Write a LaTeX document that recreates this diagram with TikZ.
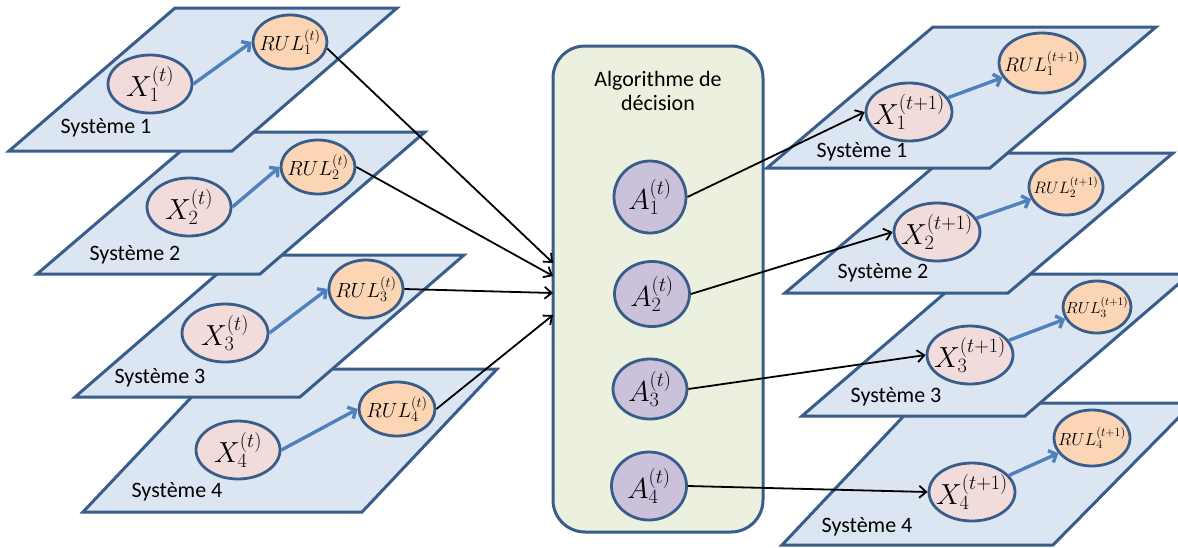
\documentclass[tikz,border=0pt]{standalone}
\usepackage{fix-cm}
\usepackage{fontspec}
\usetikzlibrary{arrows.meta,shapes.geometric}
\newfontfamily\calib{Carlito}
\definecolor{planefill}{HTML}{DCE6F2}
\definecolor{edgeblue}{HTML}{385D8A}
\definecolor{arrowblue}{HTML}{4F81BD}
\definecolor{xpink}{HTML}{F2DCDB}
\definecolor{rulorange}{HTML}{FCD5B5}
\definecolor{apurple}{HTML}{CCC1DA}
\definecolor{boxgreen}{HTML}{EBF1DE}
\newcommand{\msize}[1]{\fontsize{#1}{#1}\selectfont}

\begin{document}
\begin{tikzpicture}[x=1pt,y=-1pt,
    plane/.style={draw=edgeblue,fill=planefill,line width=3pt},
    state/.style={ellipse,draw=edgeblue,line width=2.8pt,inner sep=-14pt},
    xnode/.style={state,fill=xpink,font=\msize{29}},
    rulnode/.style={state,fill=rulorange},
    anode/.style={state,fill=apurple,font=\msize{29}},
    evol/.style={-{Straight Barb[length=6pt,width=13pt]},arrowblue,line width=3.4pt},
    link/.style={-{Straight Barb[length=7pt,width=12pt]},black,line width=1.8pt},
    syslabel/.style={font=\calib\msize{22}}]
    \useasboundingbox (0,0) rectangle (1178,547);
    \clip (0,0) rectangle (1178,547);

    % left systems at time t
    \draw[plane] (83,512) -- (362,512) -- (497,369) -- (218,369) -- cycle;
    \draw[plane] (75,397) -- (300,397) -- (464,255) -- (239,255) -- cycle;
    \draw[plane] (37,274) -- (260,274) -- (425,132) -- (203,132) -- cycle;
    \draw[plane] (9,151) -- (232,151) -- (397,8) -- (175,8) -- cycle;

    \node[syslabel] (s1) at (106,128) {Système 1};
    \node[syslabel] (s2) at (135,255) {Système 2};
    \node[syslabel] (s3) at (160,378) {Système 3};
    \node[syslabel] (s4) at (177,492) {Système 4};

    \node[xnode,minimum width=84pt,minimum height=58pt] (x1) at (150,84) {$X_1^{(t)}$};
    \node[xnode,minimum width=84pt,minimum height=58pt] (x2) at (189,207) {$X_2^{(t)}$};
    \node[xnode,minimum width=86pt,minimum height=58pt] (x3) at (225,333) {$X_3^{(t)}$};
    \node[xnode,minimum width=84pt,minimum height=58pt] (x4) at (238,450) {$X_4^{(t)}$};
    \node[rulnode,font=\msize{20.5},minimum width=74pt,minimum height=54pt] (rul1) at (290,42) {$RUL_1^{(t)}$};
    \node[rulnode,font=\msize{20.5},minimum width=74pt,minimum height=54pt] (rul2) at (318,167) {$RUL_2^{(t)}$};
    \node[rulnode,font=\msize{20.5},minimum width=74pt,minimum height=58pt] (rul3) at (366,289) {$RUL_3^{(t)}$};
    \node[rulnode,font=\msize{20.5},minimum width=76pt,minimum height=54pt] (rul4) at (397,409) {$RUL_4^{(t)}$};

    % decision box
    \node[draw=edgeblue,fill=boxgreen,line width=3pt,rounded corners=32pt,
      minimum width=210pt,minimum height=486pt] (algo) at (658,289) {};
    \node[font=\calib\msize{22},align=center] (title) at (658,91)
      {Algorithme de\\[2pt]décision};
    \node[anode,minimum width=72pt,minimum height=72pt] (a1) at (650,197) {$A_1^{(t)}$};
    \node[anode,minimum width=75pt,minimum height=65pt] (a2) at (652,294) {$A_2^{(t)}$};
    \node[anode,minimum width=74pt,minimum height=60pt] (a3) at (650,389) {$A_3^{(t)}$};
    \node[anode,minimum width=75pt,minimum height=68pt] (a4) at (649,486) {$A_4^{(t)}$};
    \coordinate (in1) at (553,263);
    \coordinate (in2) at (553,276);
    \coordinate (in3) at (553,293);
    \coordinate (in4) at (553,315);

    % right systems at time t+1
    \draw[plane] (782,545) -- (1053,545) -- (1193,403) -- (916,403) -- cycle;
    \draw[plane] (802,416) -- (1025,416) -- (1190,274) -- (967,274) -- cycle;
    \draw[plane] (785,293) -- (1008,293) -- (1173,153) -- (950,153) -- cycle;
    \draw[plane] (767,168) -- (990,168) -- (1156,27) -- (933,27) -- cycle;

    \node[syslabel] (r1) at (862,152) {Système 1};
    \node[syslabel] (r2) at (883,273) {Système 2};
    \node[syslabel] (r3) at (896,397) {Système 3};
    \node[syslabel] (r4) at (867,527) {Système 4};

    \node[xnode,minimum width=86pt,minimum height=58pt] (y1) at (909,112) {$X_1^{(t+1)}$};
    \node[xnode,minimum width=86pt,minimum height=58pt] (y2) at (937,232) {$X_2^{(t+1)}$};
    \node[xnode,minimum width=86pt,minimum height=58pt] (y3) at (970,355) {$X_3^{(t+1)}$};
    \node[xnode,minimum width=86pt,minimum height=58pt] (y4) at (972,492) {$X_4^{(t+1)}$};
    \node[rulnode,font=\msize{19.5},minimum width=86pt,minimum height=60pt] (next1) at (1042,63) {$RUL_1^{(t+1)}$};
    \node[rulnode,font=\msize{16.5},minimum width=74pt,minimum height=56pt] (next2) at (1066,187) {$RUL_2^{(t+1)}$};
    \node[rulnode,font=\msize{16},minimum width=68pt,minimum height=52pt] (next3) at (1097,307) {$RUL_3^{(t+1)}$};
    \node[rulnode,font=\msize{17.5},minimum width=76pt,minimum height=56pt] (next4) at (1092,438) {$RUL_4^{(t+1)}$};

    % arrows
    \draw[evol] (x1.east) -- (rul1.west);
    \draw[evol] (x2.east) -- (rul2.west);
    \draw[evol] (x3.east) -- (rul3.west);
    \draw[evol] (x4.east) -- (rul4.west);
    \draw[evol] (y1) -- (next1);
    \draw[evol] (y2) -- (next2);
    \draw[evol] (y3) -- (next3);
    \draw[evol] (y4) -- (next4);

    \draw[link] (rul1.-10) -- (in1);
    \draw[link] (rul2.east) -- (in2);
    \draw[link] (rul3.east) -- (in3);
    \draw[link] (rul4.east) -- (in4);
    \draw[link] (a1.east) -- (y1.west);
    \draw[link] (a2.east) -- (y2.west);
    \draw[link] (a3.east) -- (y3.west);
    \draw[link] (a4.east) -- (y4.west);
  \end{tikzpicture}
\end{document}
